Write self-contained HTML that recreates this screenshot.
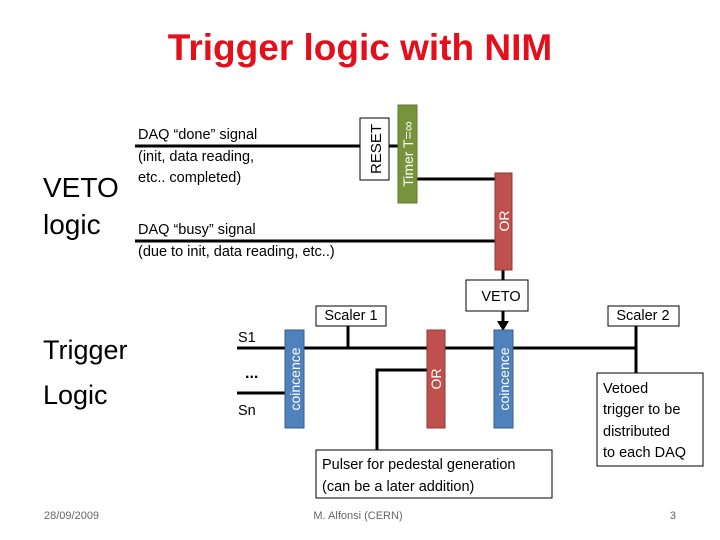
<!DOCTYPE html>
<html><head><style>
body{margin:0;width:720px;height:540px;background:#fff;overflow:hidden}
svg{display:block}
text{font-family:"Liberation Sans",sans-serif}
</style></head><body>
<svg width="720" height="540" viewBox="0 0 720 540">
<text x="360" y="60" text-anchor="middle" font-size="37" font-weight="bold" fill="#e3101b">Trigger logic with NIM</text>
<text x="43" y="197" font-size="28" fill="#000">VETO</text>
<text x="43" y="234" font-size="28" fill="#000">logic</text>
<text x="43" y="359" font-size="27" fill="#000">Trigger</text>
<text x="43" y="404" font-size="27" fill="#000">Logic</text>
<g font-size="14.5" fill="#000">
<text x="138" y="139">DAQ “done” signal</text>
<text x="138" y="161">(init, data reading,</text>
<text x="138" y="182">etc.. completed)</text>
<text x="138" y="234">DAQ “busy” signal</text>
<text x="138" y="256">(due to init, data reading, etc..)</text>
</g>
<g stroke="#000" stroke-width="3" fill="none">
<line x1="135" y1="146" x2="398" y2="146"/>
<line x1="417" y1="179" x2="495" y2="179"/>
<line x1="135" y1="241" x2="495" y2="241"/>
<line x1="503" y1="270" x2="503" y2="281"/>
<line x1="503" y1="311" x2="503" y2="322"/>
<line x1="237" y1="348" x2="636" y2="348"/>
<line x1="237" y1="393" x2="285" y2="393"/>
<line x1="348" y1="326" x2="348" y2="348"/>
<line x1="636" y1="326" x2="636" y2="373"/>
<polyline points="377,450 377,370 427,370"/>
</g>
<polygon points="497,321 509,321 503,331" fill="#000"/>
<rect x="360" y="118" width="29" height="62" fill="#fff" stroke="#000"/>
<text transform="translate(381,149) rotate(-90)" text-anchor="middle" font-size="15">RESET</text>
<rect x="398" y="105" width="19" height="98" fill="#77933c" stroke="#5f7a2e"/>
<text transform="translate(413,154) rotate(-90)" text-anchor="middle" font-size="14" fill="#fff">Timer T=∞</text>
<rect x="495" y="173" width="17" height="97" fill="#c0504d" stroke="#8c3836"/>
<text transform="translate(509,221) rotate(-90)" text-anchor="middle" font-size="14" fill="#fff">OR</text>
<rect x="466" y="280" width="62" height="31" fill="#fff" stroke="#000"/>
<text x="501" y="301" text-anchor="middle" font-size="14.5">VETO</text>
<rect x="316" y="306" width="70" height="20" fill="#fff" stroke="#000"/>
<text x="351" y="320" text-anchor="middle" font-size="14.5">Scaler 1</text>
<rect x="608" y="306" width="71" height="20" fill="#fff" stroke="#000"/>
<text x="643" y="320" text-anchor="middle" font-size="14.5">Scaler 2</text>
<rect x="285" y="330" width="19" height="98" fill="#4f81bd" stroke="#385d8a"/>
<text transform="translate(300,379) rotate(-90)" text-anchor="middle" font-size="14" fill="#fff">coincence</text>
<rect x="427" y="330" width="18" height="98" fill="#c0504d" stroke="#8c3836"/>
<text transform="translate(441,379) rotate(-90)" text-anchor="middle" font-size="14" fill="#fff">OR</text>
<rect x="494" y="330" width="19" height="98" fill="#4f81bd" stroke="#385d8a"/>
<text transform="translate(509,379) rotate(-90)" text-anchor="middle" font-size="14" fill="#fff">coincence</text>
<text x="238" y="342" font-size="14.5">S1</text>
<text x="245" y="378" font-size="16" font-weight="bold">...</text>
<text x="238" y="415" font-size="14.5">Sn</text>
<rect x="597" y="373" width="106" height="93" fill="#fff" stroke="#000"/>
<g font-size="14.5"><text x="603" y="393">Vetoed</text>
<text x="603" y="414">trigger to be</text>
<text x="603" y="436">distributed</text>
<text x="603" y="457">to each DAQ</text></g>
<rect x="316" y="450" width="236" height="48" fill="#fff" stroke="#000"/>
<text x="322" y="469" font-size="14.5">Pulser for pedestal generation</text>
<text x="322" y="491" font-size="14.5">(can be a later addition)</text>
<g font-size="11" fill="#666">
<text x="44" y="519">28/09/2009</text>
<text x="358" y="519" text-anchor="middle">M. Alfonsi (CERN)</text>
<text x="676" y="519" text-anchor="end">3</text>
</g>
</svg>
</body></html>
